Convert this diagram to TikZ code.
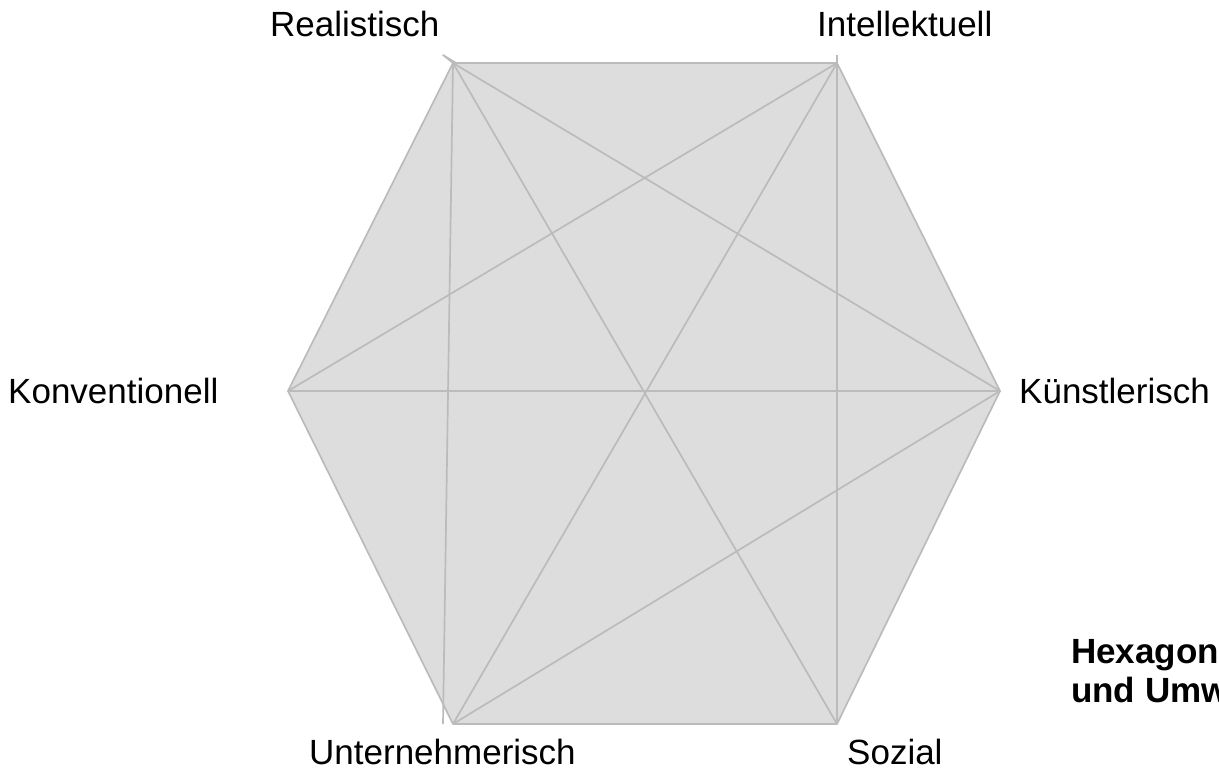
\documentclass[tikz,border=0pt]{standalone}
\usepackage{fontspec}
\setmainfont{Liberation Sans}
\begin{document}
\begin{tikzpicture}[x=1pt,y=-1pt,
  edge/.style={draw=linegray,line width=1.7pt,line join=round},
  lbl/.style={anchor=base west,inner sep=0pt,font=\fontsize{35}{39}\selectfont},
  ttl/.style={anchor=base west,inner sep=0pt,align=left,font=\fontsize{35}{39}\selectfont\bfseries}]
\definecolor{linegray}{RGB}{187,187,187}
\definecolor{fillgray}{RGB}{221,221,221}
\useasboundingbox (0,0) rectangle (1219,772);
\clip (0,0) rectangle (1219,772);
% hexagon corners
\coordinate (R) at (453,63);
\coordinate (I) at (837,63);
\coordinate (K) at (1000,391);
\coordinate (S) at (837,724);
\coordinate (U) at (453,724);
\coordinate (C) at (288,391);
\coordinate (Itop) at (837,55);
\coordinate (Ubot) at (443,724);
\coordinate (Rtip) at (443,55);
\coordinate (Rside) at (456,63);
% filled hexagon
\fill[fillgray] (R) -- (I) -- (K) -- (S) -- (U) -- (C) -- cycle;
\draw[edge] (R) -- (I) -- (K) -- (S) -- (U) -- (C) -- cycle;
% diagonals
\draw[edge] (R) -- (S);
\draw[edge] (I) -- (U);
\draw[edge] (C) -- (K);
\draw[edge] (R) -- (K);
\draw[edge] (I) -- (C);
\draw[edge] (K) -- (U);
\draw[edge] (Itop) -- (S);
\draw[edge] (R) -- (Ubot);
\draw[edge] (R) -- (Rtip) -- (Rside);
% labels
\node[lbl] (lR) at (270,36) {Realistisch};
\node[lbl] (lI) at (817,36) {Intellektuell};
\node[lbl] (lK) at (1019,403) {Künstlerisch};
\node[lbl] (lC) at (8,403) {Konventionell};
\node[lbl] (lU) at (309,764) {Unternehmerisch};
\node[lbl] (lS) at (847,764) {Sozial};
\node[ttl] (title) at (1071,702) {Hexagon\\und Umw};
\end{tikzpicture}
\end{document}
